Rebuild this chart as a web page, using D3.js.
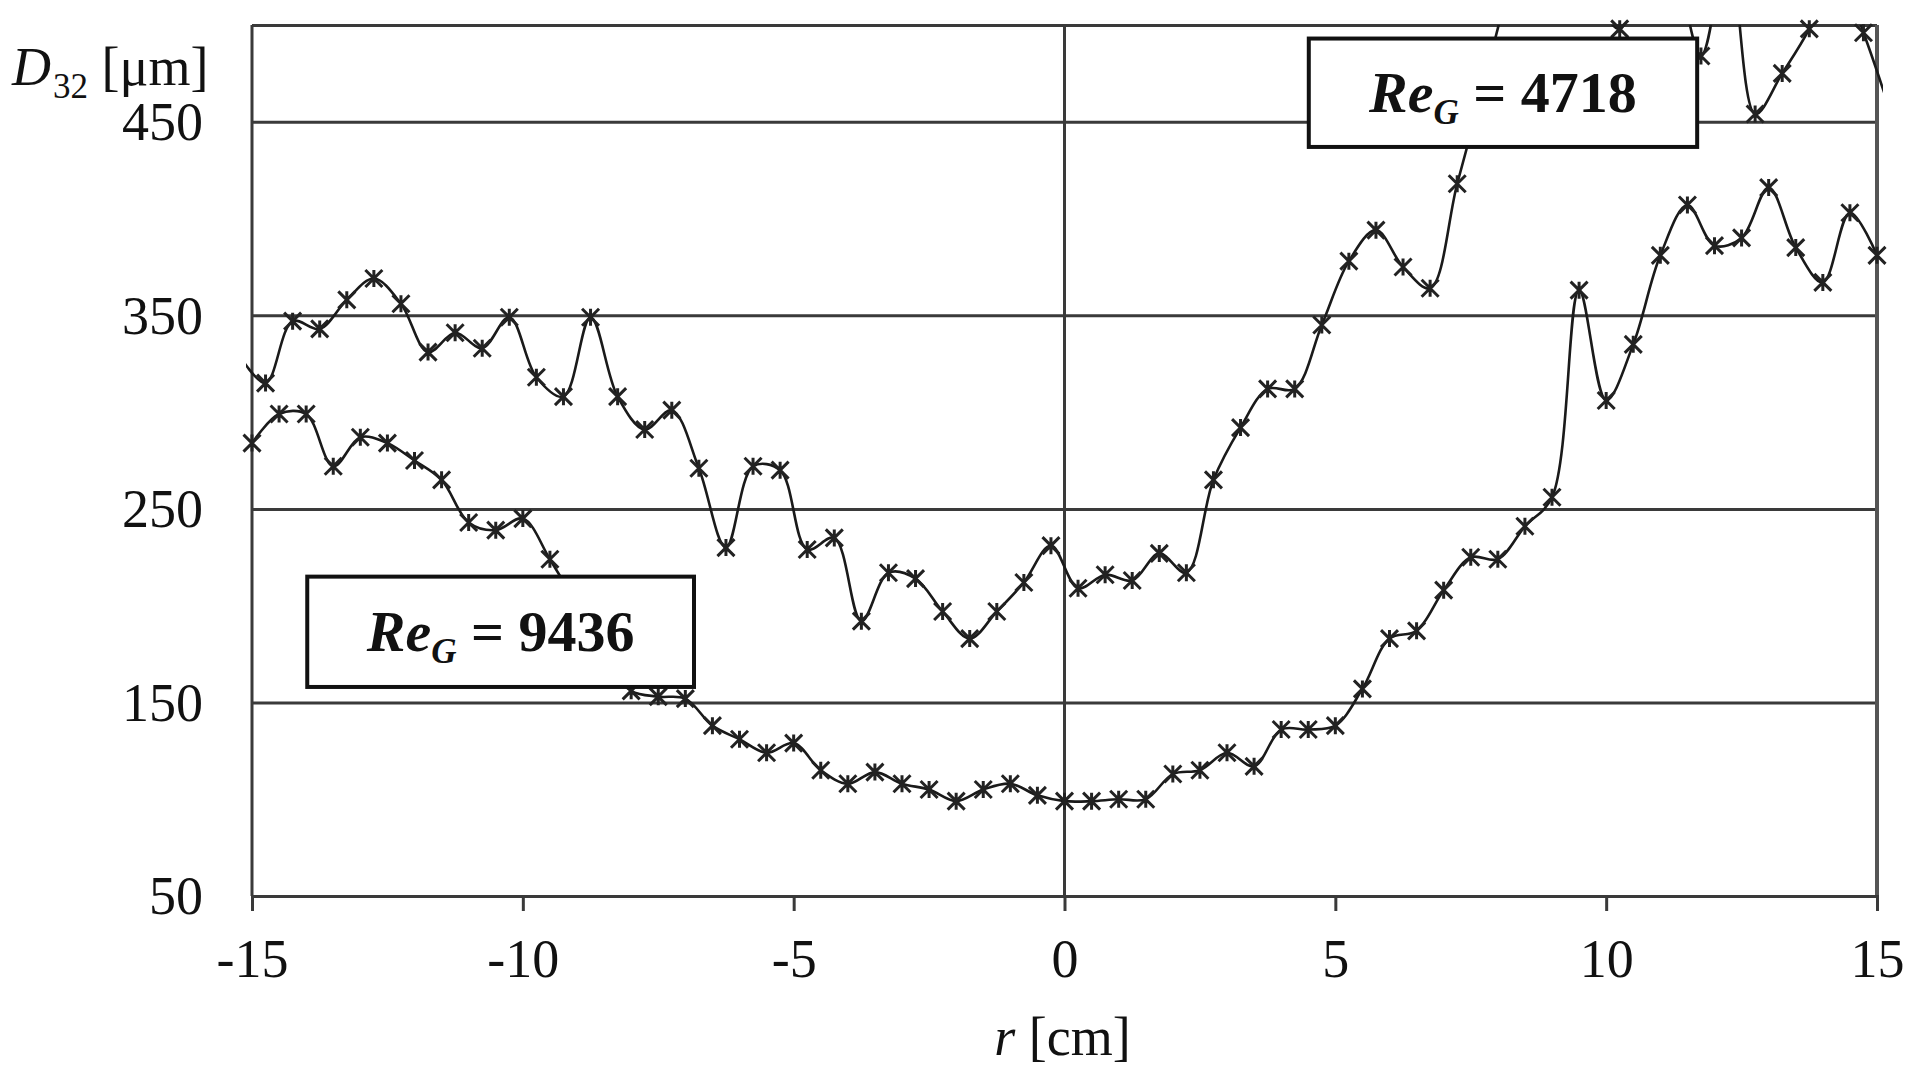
<!DOCTYPE html>
<html>
<head>
<meta charset="utf-8">
<script src="https://cdn.jsdelivr.net/npm/d3@7"></script>
<style>
  html, body { margin: 0; padding: 0; background: #fff; overflow: hidden; }
  svg { display: block; }
  text { font-family: "Liberation Serif", "Times New Roman", serif; fill: #111; }
</style>
</head>
<body>
<svg id="chart" width="1910" height="1078"></svg>
<script>
// radial position r [cm] and Sauter diameter D32 [um]
// Re_G = 9436 (lower curve)
const rLow = [-15, -14.5, -14, -13.5, -13, -12.5, -12, -11.5, -11, -10.5, -10,
  -9.5, -9, -8.5, -8, -7.5, -7, -6.5, -6, -5.5, -5, -4.5, -4, -3.5, -3, -2.5,
  -2, -1.5, -1, -0.5, 0, 0.5, 1, 1.5, 2, 2.5, 3, 3.5, 4, 4.5, 5, 5.5, 6, 6.5,
  7, 7.5, 8, 8.5, 9, 9.5, 10, 10.5, 11, 11.5, 12, 12.5, 13, 13.5, 14, 14.5, 15];
const d32Low = [284, 299, 299, 272, 287, 284, 275, 265, 243, 239, 245,
  224, 200, 172, 156, 153, 152, 138, 131, 124, 129, 115, 108, 114, 108, 105,
  99, 105, 108, 102, 99, 99, 100, 100, 113, 115, 124, 117, 136, 136, 138, 157, 183, 187,
  208, 225, 224, 241, 256, 363, 306, 335, 381, 407, 386, 390, 416, 385, 367, 403, 381];

// Re_G = 4718 (upper curve), points that run off the top are cut by the plot
const rHigh = [-15.25, -14.75, -14.25, -13.75, -13.25, -12.75, -12.25, -11.75,
  -11.25, -10.75, -10.25, -9.75, -9.25, -8.75, -8.25, -7.75, -7.25, -6.75, -6.25,
  -5.75, -5.25, -4.75, -4.25, -3.75, -3.25, -2.75, -2.25, -1.75, -1.25, -0.75,
  -0.25, 0.25, 0.75, 1.25, 1.75, 2.25, 2.75, 3.25, 3.75, 4.25, 4.75, 5.25, 5.75,
  6.25, 6.75, 7.25, 7.75, 8.25, 8.75, 9.25, 9.75, 10.25, 10.75, 11.25, 11.75,
  12.25, 12.75, 13.25, 13.75, 14.25, 14.75, 15.25];
const d32High = [330, 315, 347, 343, 358, 369, 356, 331,
  341, 333, 349, 318, 308, 349, 308, 291, 301, 271, 230,
  272, 270, 229, 235, 192, 217, 214, 197, 183, 197, 212,
  231, 209, 216, 213, 227, 217, 265, 292, 312, 312, 345, 378, 394,
  375, 364, 418, 470, 520, 540, 530, 515, 498, 530, 525, 484,
  540, 454, 475, 498, 530, 496, 455];

const xTicks = [-15, -10, -5, 0, 5, 10, 15];
const yTicks = [50, 150, 250, 350, 450];
const reLabels = ["9436", "4718"];

const svg = d3.select("#chart");
const width = 1910;
const margin = { top: 25, right: 33, bottom: 182, left: 252 };
const innerHeight = 1078 - margin.top - margin.bottom;

const x = d3.scaleLinear().domain([-15, 15]).range([margin.left, width - margin.right]);
const y = d3.scaleLinear().domain([50, 500]).range([margin.top + innerHeight, margin.top]);

const gridColor = "#3a3a3a";

// horizontal grid lines (incl. top border)
svg.append("g")
  .attr("transform", `translate(${margin.left},0)`)
  .call(d3.axisLeft(y).tickValues(yTicks.concat([500])).tickSize(-(x(15) - x(-15))).tickFormat(""))
  .call(g => g.select(".domain").remove())
  .call(g => g.selectAll("text").remove())
  .selectAll("line")
  .attr("stroke", gridColor)
  .attr("stroke-width", 3);

// vertical lines: left border, axis at r = 0, right border
svg.append("g")
  .selectAll("line")
  .data([-15, 0, 15])
  .join("line")
  .attr("x1", d => x(d))
  .attr("x2", d => x(d))
  .attr("y1", y(500))
  .attr("y2", y(50))
  .attr("stroke", d => (d === 15 ? "#555" : gridColor))
  .attr("stroke-width", d => (d === 15 ? 4 : 3));

// x axis with outside ticks and labels
const xAxis = svg.append("g")
  .attr("transform", `translate(0,${y(50)})`)
  .call(d3.axisBottom(x).tickValues(xTicks).tickSize(15).tickPadding(28).tickFormat(d => String(d)))
  .attr("font-size", 54)
  .attr("font-family", "Liberation Serif");
xAxis.select(".domain").attr("stroke", gridColor).attr("stroke-width", 3);
xAxis.selectAll(".tick line").attr("stroke", gridColor).attr("stroke-width", 3);
xAxis.selectAll("text").attr("fill", "#111");

// y labels
const yAxis = svg.append("g")
  .attr("transform", `translate(${margin.left},0)`)
  .call(d3.axisLeft(y).tickValues(yTicks).tickSize(0).tickPadding(49))
  .attr("font-size", 54)
  .attr("font-family", "Liberation Serif");
yAxis.select(".domain").remove();
yAxis.selectAll("text").attr("dy", "0.33em").attr("fill", "#111");

// axis titles
const yTitle = svg.append("text").attr("x", 12).attr("y", 85).attr("font-size", 54);
yTitle.append("tspan").attr("font-style", "italic").text("D");
yTitle.append("tspan").attr("font-size", 35).attr("dy", 13).attr("dx", 2).text("32");
yTitle.append("tspan").attr("dy", -13).text(" [\u03bcm]");

const xTitle = svg.append("text")
  .attr("x", x(0) - 2)
  .attr("y", 1055)
  .attr("text-anchor", "middle")
  .attr("font-size", 54);
xTitle.append("tspan").attr("font-style", "italic").text("r");
xTitle.append("tspan").text(" [cm]");

// series
const series = [
  d3.zip(rLow, d32Low).map(([r, v]) => ({ r, v })),
  d3.zip(rHigh, d32High).map(([r, v]) => ({ r, v }))
];

svg.append("clipPath").attr("id", "plotClip")
  .append("rect")
  .attr("x", x(-15) - 6)
  .attr("y", y(500))
  .attr("width", x(15) - x(-15) + 12)
  .attr("height", y(50) - y(500));

const line = d3.line()
  .x(d => x(d.r))
  .y(d => y(d.v))
  .curve(d3.curveCatmullRom.alpha(0.5));

svg.append("g")
  .attr("clip-path", "url(#plotClip)")
  .selectAll("path")
  .data(series)
  .join("path")
  .attr("d", line)
  .attr("fill", "none")
  .attr("stroke", "#1a1a1a")
  .attr("stroke-width", 2.6);

// Excel style star marker: a cross with a vertical stroke
const starMarker = {
  draw(ctx, size) {
    const s = Math.sqrt(size) / 2;
    ctx.moveTo(-s, -s); ctx.lineTo(s, s);
    ctx.moveTo(-s, s); ctx.lineTo(s, -s);
    ctx.moveTo(0, -s); ctx.lineTo(0, s);
  }
};
const symbol = d3.symbol().type(starMarker).size(289);

svg.append("g")
  .selectAll("g")
  .data(series)
  .join("g")
  .selectAll("path")
  .data(d => d.filter(p => p.v <= 500 && p.r >= -15 && p.r <= 15))
  .join("path")
  .attr("transform", d => `translate(${x(d.r)},${y(d.v)})`)
  .attr("d", symbol)
  .attr("fill", "none")
  .attr("stroke", "#222")
  .attr("stroke-width", 3);

// boxed Reynolds number labels, placed in data units
const boxes = [
  { label: reLabels[0], r0: -13.98, r1: -6.84, v0: 158, v1: 215 },
  { label: reLabels[1], r0: 4.51, r1: 11.68, v0: 437, v1: 493 }
];

const box = svg.append("g")
  .selectAll("g")
  .data(boxes)
  .join("g");

box.append("rect")
  .attr("x", d => x(d.r0))
  .attr("y", d => y(d.v1))
  .attr("width", d => x(d.r1) - x(d.r0))
  .attr("height", d => y(d.v0) - y(d.v1))
  .attr("fill", "#fff")
  .attr("stroke", "#111")
  .attr("stroke-width", 4);

const boxText = box.append("text")
  .attr("x", d => (x(d.r0) + x(d.r1)) / 2)
  .attr("y", d => (y(d.v0) + y(d.v1)) / 2 + 19)
  .attr("text-anchor", "middle")
  .attr("font-size", 58)
  .attr("font-weight", "bold");
boxText.append("tspan").attr("font-style", "italic").text("Re");
boxText.append("tspan").attr("font-style", "italic").attr("font-size", 35).attr("dy", 12).text("G");
boxText.append("tspan").attr("dy", -12).text(d => " = " + d.label);
</script>
</body>
</html>
